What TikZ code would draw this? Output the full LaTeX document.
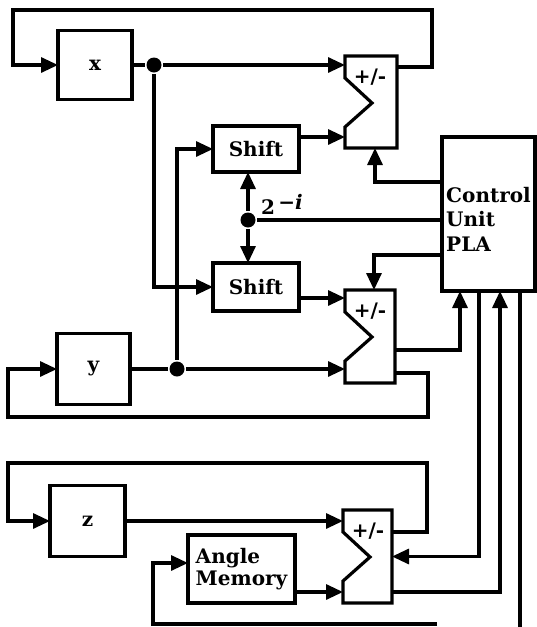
\documentclass[tikz,border=0pt]{standalone}
\usepackage{fontspec}
\setmainfont{DejaVu Serif}
\usetikzlibrary{arrows.meta,calc}
\begin{document}
\begin{tikzpicture}[x=1pt,y=-1pt,
  line width=3.2pt, line join=miter,
  >={Triangle[length=17pt,width=15pt]},
  txt/.style={font=\fontsize{20}{24}\selectfont\bfseries},
  box/.style={draw, rectangle, inner sep=0pt, outer sep=0pt, txt},
  addnode/.style={rectangle, inner sep=0pt, outer sep=0pt},
  pm/.style={inner sep=0pt, font=\fontsize{20}{22}\selectfont\bfseries},
  dot/.style={circle, fill=black, draw=none, inner sep=0pt, minimum size=15pt}
]
\useasboundingbox (0,0) rectangle (537,627);

% boxes
\node[box, minimum width=74pt, minimum height=69pt] (xbox) at (95,65) {x};
\node[box, minimum width=73pt, minimum height=71pt] (ybox) at (93.5,369) {y};
\node[box, minimum width=75pt, minimum height=71pt] (zbox) at (87.5,521) {z};
\node[box, minimum width=86pt, minimum height=46pt] (sh1) at (256,149) {Shift};
\node[box, minimum width=86pt, minimum height=48pt] (sh2) at (256,287) {Shift};
\node[box, minimum width=107pt, minimum height=68pt, align=left,
      font=\fontsize{20}{22}\selectfont\bfseries] (am) at (241.5,569) {Angle\\Memory};
\node[box, minimum width=93pt, minimum height=154pt] (cu) at (488.5,214) {};
\node[txt, align=left, inner sep=0pt, font=\fontsize{20}{24.5}\selectfont\bfseries] (cutext) at (488.5,219) {Control\\Unit\\PLA};

% adders
\node[addnode, minimum width=52pt, minimum height=92pt] (a1) at (371,102) {};
\node[addnode, minimum width=50pt, minimum height=93pt] (a2) at (370,336.5) {};
\node[addnode, minimum width=49pt, minimum height=93pt] (a3) at (367.5,556.5) {};
\foreach \a in {a1,a2,a3}{
  \draw (\a.north west) -- (\a.north east) -- (\a.south east) -- (\a.south west)
    -- ([yshift=-71pt]\a.north west) -- ([xshift=27pt,yshift=-47pt]\a.north west)
    -- ([yshift=-22pt]\a.north west) -- cycle;
  \node[pm] (\a pm) at ([xshift=25pt,yshift=-21pt]\a.north west) {+/-};
}

% junction dots
\node[dot] (xd) at (154,65) {};
\node[dot] (yd) at (177,369) {};
\node[dot] (sd) at (248,220) {};
\node[txt, inner sep=0pt] (lbl) at (282,204) {2\,\raisebox{5pt}{\itshape −i}};

% x path
\draw[->] (xbox.east) -- (xd) -- (xd -| a1.west);
\draw[->] (xd) |- (sh2.west);
\draw[->] ([yshift=35pt]a1.east) -- (432,67) -- (432,10) -- (13,10) |- (xbox.west);
\draw[->] ([yshift=12pt]sh1.east) -- ([yshift=12pt]sh1.east -| a1.west);

% y path
\draw[->] (ybox.east) -- (yd) -- (yd -| a2.west);
\draw[->] (yd) |- (sh1.west);
\draw[->] ([yshift=-11pt]sh2.east) -- ([yshift=-11pt]sh2.east -| a2.west);
\draw[->] ([yshift=-36.5pt]a2.east) -- (428,373) -- (428,417) -- (8,417) |- (ybox.west);

% shift control
\draw[->] (sd) -- (sd |- sh1.south);
\draw[->] (sd) -- (sd |- sh2.north);
\draw (sd) -- (sd -| cu.west);

% control unit links
\draw[->] ([yshift=32pt]cu.west) -| ([xshift=4pt]a1.south);
\draw[->] ([yshift=-41pt]cu.west) -| ([xshift=4pt]a2.north);
\draw[->] ([yshift=-13.5pt]a2.east) -| ([xshift=-28.5pt]cu.south);
\draw[->] ([xshift=-9.5pt]cu.south) |- (a3.east);
\draw[->] ([yshift=-35.5pt]a3.east) -| ([xshift=11.5pt]cu.south);
\coordinate (cuout) at (520,627);
\draw ([xshift=31.5pt]cu.south) -- (cuout);

% z path
\draw[->] (zbox.east) -- (zbox.east -| a3.west);
\draw[->] ([yshift=24.5pt]a3.east) -- (427,532) -- (427,463) -- (8,463) |- (zbox.west);

% angle memory
\draw[->] ([yshift=-23pt]am.east) -- ([yshift=-23pt]am.east -| a3.west);
\coordinate (amfb) at (437,624);
\draw[->] (amfb) -- (153,624) |- ([yshift=6pt]am.west);
\end{tikzpicture}
\end{document}
